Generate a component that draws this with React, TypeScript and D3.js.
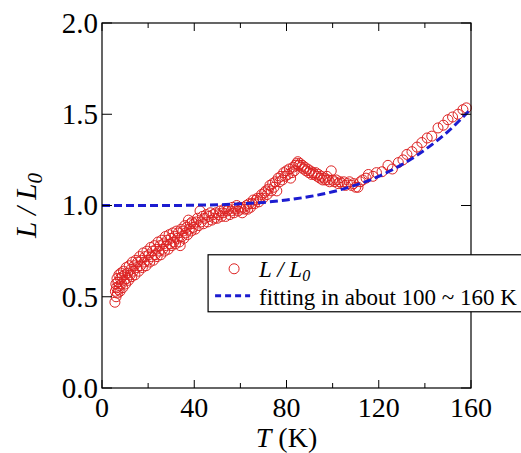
import * as d3 from 'd3'

const width = 521
const height = 453
const margin = { top: 23, right: 50, bottom: 65, left: 102 }

// T (K), L / L0
const points: [number, number][] = [
  [5.6, 0.47], [5.8, 0.53], [6.0, 0.57], [6.1, 0.5], [6.3, 0.55], [6.5, 0.6], [6.7, 0.52], [6.9, 0.58],
  [7.1, 0.54], [7.3, 0.62], [7.5, 0.56], [7.8, 0.53], [8.0, 0.6], [8.2, 0.63], [8.5, 0.57], [8.8, 0.61],
  [9.0, 0.55], [9.3, 0.64], [9.6, 0.59], [9.9, 0.62], [10.2, 0.57], [10.5, 0.66], [10.8, 0.6], [11.1, 0.63],
  [11.5, 0.59], [11.8, 0.67], [12.2, 0.62], [12.5, 0.65], [12.9, 0.61], [13.2, 0.69], [13.6, 0.64], [14.0, 0.67],
  [14.3, 0.62], [14.7, 0.7], [15.1, 0.66], [15.5, 0.69], [15.9, 0.64], [16.3, 0.72], [16.7, 0.67], [17.1, 0.7],
  [17.5, 0.66], [17.9, 0.74], [18.3, 0.69], [18.7, 0.72], [19.1, 0.67], [19.5, 0.75], [19.9, 0.7], [20.3, 0.73],
  [20.7, 0.69], [21.1, 0.77], [21.5, 0.72], [21.9, 0.75], [22.3, 0.7], [22.7, 0.78], [23.1, 0.73], [23.5, 0.76],
  [23.9, 0.72], [24.3, 0.8], [24.7, 0.75], [25.1, 0.78], [25.5, 0.73], [25.9, 0.81], [26.3, 0.76], [26.7, 0.79],
  [27.1, 0.75], [27.5, 0.83], [27.9, 0.78], [28.3, 0.81], [28.7, 0.76], [29.1, 0.84], [29.5, 0.79], [29.9, 0.82],
  [30.3, 0.78], [30.7, 0.85], [31.1, 0.8], [31.5, 0.83], [31.9, 0.79], [32.3, 0.86], [32.7, 0.82], [33.1, 0.85],
  [33.5, 0.8], [33.9, 0.78], [34.3, 0.87], [34.7, 0.83], [35.1, 0.86], [35.5, 0.82], [35.9, 0.89], [36.3, 0.85],
  [36.7, 0.88], [37.1, 0.84], [37.5, 0.92], [37.9, 0.87], [38.3, 0.9], [38.7, 0.86], [39.1, 0.91], [39.5, 0.88],
  [39.9, 0.9], [40.4, 0.87], [40.9, 0.91], [41.4, 0.93], [42.0, 0.89], [42.5, 0.97], [43.0, 0.91], [43.5, 0.94],
  [44.0, 0.9], [44.6, 0.93], [45.2, 0.95], [45.8, 0.91], [46.4, 0.94], [47.0, 0.96], [47.6, 0.92], [48.2, 0.95],
  [48.8, 0.93], [49.4, 0.96], [50.0, 0.93], [50.6, 0.95], [51.2, 0.97], [51.8, 0.94], [52.4, 0.96], [53.0, 0.98],
  [53.6, 0.94], [54.2, 0.97], [54.8, 0.98], [55.4, 0.95], [56.0, 0.97], [56.6, 0.99], [57.2, 0.96], [57.8, 0.98],
  [58.4, 1.0], [59.0, 0.97], [59.6, 0.99], [60.2, 0.98], [60.8, 0.96], [61.4, 0.99], [62.0, 0.98], [62.6, 1.0],
  [63.2, 0.98], [63.8, 1.01], [64.4, 0.99], [65.0, 1.01], [65.6, 1.03], [66.2, 1.01], [66.8, 1.03], [67.4, 1.04],
  [68.0, 1.02], [68.6, 1.04], [69.2, 1.06], [69.8, 1.04], [70.4, 1.07], [71.0, 1.08], [71.6, 1.06], [72.2, 1.09],
  [72.8, 1.11], [73.4, 1.08], [74.0, 1.12], [74.6, 1.1], [75.2, 1.13], [75.8, 1.08], [76.4, 1.15], [77.0, 1.13],
  [77.6, 1.16], [78.2, 1.14], [78.8, 1.18], [79.4, 1.16], [80.0, 1.19], [80.6, 1.17], [81.2, 1.2], [81.8, 1.15],
  [82.4, 1.18], [82.9, 1.21], [83.4, 1.19], [83.9, 1.22], [84.4, 1.23], [84.9, 1.24], [85.4, 1.22], [85.9, 1.23],
  [86.4, 1.21], [86.9, 1.22], [87.4, 1.2], [87.9, 1.21], [88.5, 1.19], [89.1, 1.2], [89.7, 1.18], [90.3, 1.19],
  [90.9, 1.17], [91.5, 1.18], [92.1, 1.17], [92.7, 1.18], [93.3, 1.16], [93.9, 1.17], [94.5, 1.15], [95.1, 1.16],
  [95.7, 1.14], [96.3, 1.15], [96.9, 1.14], [97.5, 1.16], [98.1, 1.14], [98.7, 1.13], [99.4, 1.19], [100.0, 1.14],
  [100.8, 1.13], [101.6, 1.14], [102.4, 1.12], [103.2, 1.13], [104.0, 1.12], [104.8, 1.13], [105.6, 1.11], [106.4, 1.12],
  [107.3, 1.13], [108.2, 1.11], [109.1, 1.12], [110.0, 1.1], [111.0, 1.1], [112.0, 1.13], [113.0, 1.14], [114.5, 1.15],
  [115.5, 1.17], [117.5, 1.16], [119.0, 1.18], [121.4, 1.185], [124.0, 1.22], [125.9, 1.2], [128.5, 1.235], [130.5, 1.25],
  [132.2, 1.28], [134.4, 1.295], [136.6, 1.32], [138.7, 1.345], [141.0, 1.37], [143.0, 1.38], [145.7, 1.425], [148.0, 1.44],
  [150.0, 1.47], [152.0, 1.485], [154.4, 1.5], [156.5, 1.525], [158.0, 1.535],
]

// dashed fitting curve, read at every 10 K
const fitT = [0, 10, 20, 30, 40, 50, 60, 70, 80, 90, 100, 110, 120, 130, 140, 150, 160]
const fitV = [1.0, 1.0, 1.0, 1.0, 1.002, 1.004, 1.009, 1.017, 1.03, 1.049, 1.075, 1.112, 1.16, 1.224, 1.305, 1.405, 1.53]

const xTicks = [0, 40, 80, 120, 160]
const xMinorTicks = [20, 60, 100, 140]
const yTicks = [0, 0.5, 1.0, 1.5, 2.0]

const red = '#dd2222'
const blue = '#1c1cd0'
const font = "'Liberation Serif', 'Times New Roman', Times, serif"

export default function App() {
  const innerWidth = width - margin.left - margin.right
  const innerHeight = height - margin.top - margin.bottom
  const x = d3.scaleLinear().domain([0, 160]).range([0, innerWidth])
  const y = d3.scaleLinear().domain([0, 2]).range([innerHeight, 0])

  const fitLine = d3
    .line<number>()
    .x((_, i) => x(fitT[i]))
    .y((d) => y(d))
    .curve(d3.curveMonotoneX)

  return (
    <svg
      width={width}
      height={height}
      style={{ position: 'absolute', left: 0, top: 0, background: '#fff', fontFamily: font }}
    >
      <g transform={`translate(${margin.left},${margin.top})`}>
        {points.map(([t, v], i) => (
          <circle key={i} cx={x(t)} cy={y(v)} r={5} fill="none" stroke={red} strokeWidth={1} />
        ))}
        <path d={fitLine(fitV) ?? ''} fill="none" stroke={blue} strokeWidth={3} strokeDasharray="8,4" />

        <rect x={0} y={0} width={innerWidth} height={innerHeight} fill="none" stroke="#000" strokeWidth={1.2} />

        {xTicks.map((t) => (
          <g key={t} transform={`translate(${x(t)},0)`}>
            <line y1={innerHeight} y2={innerHeight - 8} stroke="#000" />
            <line y1={0} y2={8} stroke="#000" />
            <text y={innerHeight + 29} textAnchor="middle" fontSize={28}>
              {t}
            </text>
          </g>
        ))}
        {xMinorTicks.map((t) => (
          <g key={t} transform={`translate(${x(t)},0)`}>
            <line y1={innerHeight} y2={innerHeight - 5} stroke="#000" />
            <line y1={0} y2={5} stroke="#000" />
          </g>
        ))}
        {yTicks.map((v) => (
          <g key={v} transform={`translate(0,${y(v)})`}>
            <line x1={0} x2={10} stroke="#000" />
            <line x1={innerWidth} x2={innerWidth - 10} stroke="#000" />
            <text x={-4} dy="0.34em" textAnchor="end" fontSize={29}>
              {v.toFixed(1)}
            </text>
          </g>
        ))}

        <text
          transform={`translate(${-66},${innerHeight / 2}) rotate(-90)`}
          textAnchor="middle"
          fontSize={29}
          fontStyle="italic"
        >
          L / L<tspan fontSize={21} dy={6}>0</tspan>
        </text>
        <text x={innerWidth / 2} y={innerHeight + 59} textAnchor="middle" fontSize={28}>
          <tspan fontStyle="italic">T</tspan> (K)
        </text>

        <g transform={`translate(${x(46)},${y(0.73)})`}>
          <rect x={0} y={0} width={330} height={57} fill="#fff" stroke="#000" strokeWidth={1.2} />
          <circle cx={26} cy={14} r={5} fill="none" stroke={red} strokeWidth={1} />
          <text x={51} y={22} fontSize={23} fontStyle="italic">
            L / L<tspan fontSize={16} dy={4}>0</tspan>
          </text>
          <line x1={7} x2={42} y1={41} y2={41} stroke={blue} strokeWidth={3} strokeDasharray="6,4" />
          <text x={51} y={50} fontSize={23}>
            fitting in about 100 ~ 160 K
          </text>
        </g>
      </g>
    </svg>
  )
}
